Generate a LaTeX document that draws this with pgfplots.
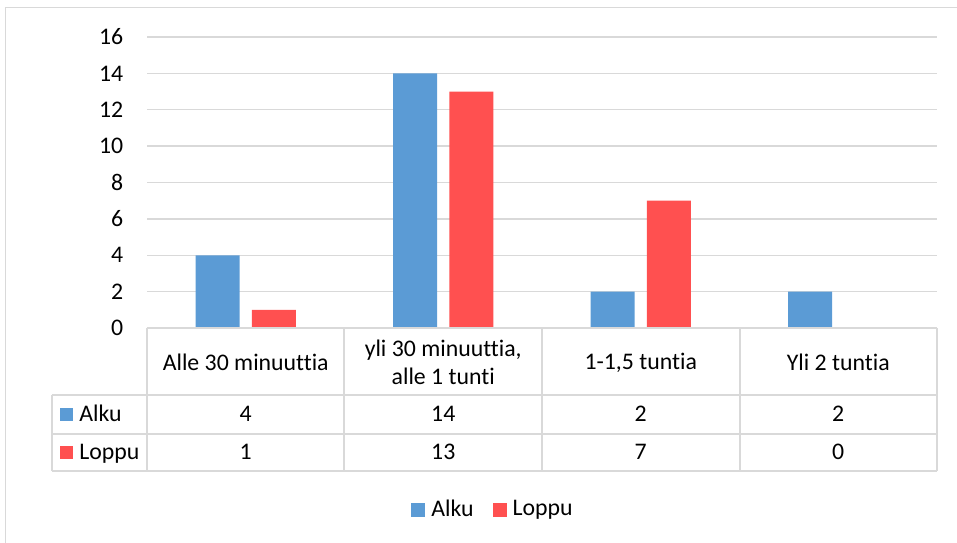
\documentclass[border=0pt]{standalone}
\usepackage{pgfplots}
\usepackage{pgfplotstable}
\usepackage{fontspec}
\setmainfont{Carlito}[Ligatures={NoCommon,NoContextual}]
\pgfplotsset{compat=1.18}

\definecolor{alku}{HTML}{5B9BD5}
\definecolor{loppu}{HTML}{FF5050}
\definecolor{rule}{HTML}{D9D9D9}

% Answers at the start (Alku) and at the end (Loppu), per time category
\pgfplotstableread{
idx Alku Loppu
0   4    1
1   14   13
2   2    7
3   2    0
}\kesto

\begin{document}
\fontsize{11.9}{14.15}\selectfont
\begin{tikzpicture}
% whole chart area; 1 unit of the table grid below = 0.5pt
\useasboundingbox (-73.5pt,-107pt) rectangle (405pt,164pt);
\begin{axis}[
  scale only axis,
  width=395pt, height=145.5pt,
  xmin=-0.5, xmax=3.5,
  ymin=0, ymax=16,
  ytick={0,2,...,16},
  xtick=data,
  xticklabels={Alle 30 minuuttia, {yli 30 minuuttia,\\alle 1 tunti}, {1-1,5 tuntia}, Yli 2 tuntia},
  xticklabel style={align=center, anchor=center, inner sep=0pt, yshift=-17.2pt},
  yticklabel style={anchor=east, inner sep=0pt, xshift=-11.7pt},
  /pgf/number format/assume math mode=true,
  major tick length=0pt,
  axis line style={draw=none},
  ymajorgrids,
  grid style={rule, line width=0.7pt},
  ybar=6.2pt, bar width=22pt,
  legend style={draw=none, fill=none, legend columns=2,
    at={(axis description cs:0.4393,-0.6255)}, anchor=center,
    /tikz/every even column/.append style={column sep=7.5pt},
    inner sep=0pt, cells={anchor=west}},
  legend image code/.code={\fill[#1] (0pt,-3.5pt) rectangle (7pt,3.5pt); \path (8pt,0pt);},
]
\addplot[fill=alku, draw=none] table[x=idx, y=Alku] {\kesto};
\addplot[fill=loppu, draw=none] table[x=idx, y=Loppu] {\kesto};
\legend{Alku, Loppu}
\end{axis}

% data table under the plot area, laid out on the chart's pixel grid
\begin{scope}[x=0.5pt, y=-0.5pt, shift={(-73.5pt,164pt)}]
  % chart frame
  \draw[rule, line width=0.5pt] (6,560) -- (6,8) -- (970,8);
  % table rules
  \draw[rule, line width=1pt] (147,328) -- (937,328);
  \foreach \yy in {395,433.5,471}
    \draw[rule, line width=1pt] (52,\yy) -- (937,\yy);
  \draw[rule, line width=1pt] (52,395) -- (52,471);
  \foreach \xx in {147,344,541.5,739.5,937}
    \draw[rule, line width=1pt] (\xx,328) -- (\xx,471);
  % series keys
  \fill[alku] (60,407.5) rectangle (73,420.5);
  \node[anchor=base west, inner sep=0pt] at (79,421.3) {Alku};
  \fill[loppu] (60,446) rectangle (73,459);
  \node[anchor=base west, inner sep=0pt] at (79,459) {Loppu};
  % values
  \foreach \i in {0,...,3} {
    \pgfmathsetmacro{\cx}{147+197.5*(\i+0.5)}
    \pgfplotstablegetelem{\i}{Alku}\of\kesto
    \node[anchor=base, inner sep=0pt] at (\cx,421.3) {\pgfplotsretval};
    \pgfplotstablegetelem{\i}{Loppu}\of\kesto
    \node[anchor=base, inner sep=0pt] at (\cx,459) {\pgfplotsretval};
  }
\end{scope}
\end{tikzpicture}
\end{document}
